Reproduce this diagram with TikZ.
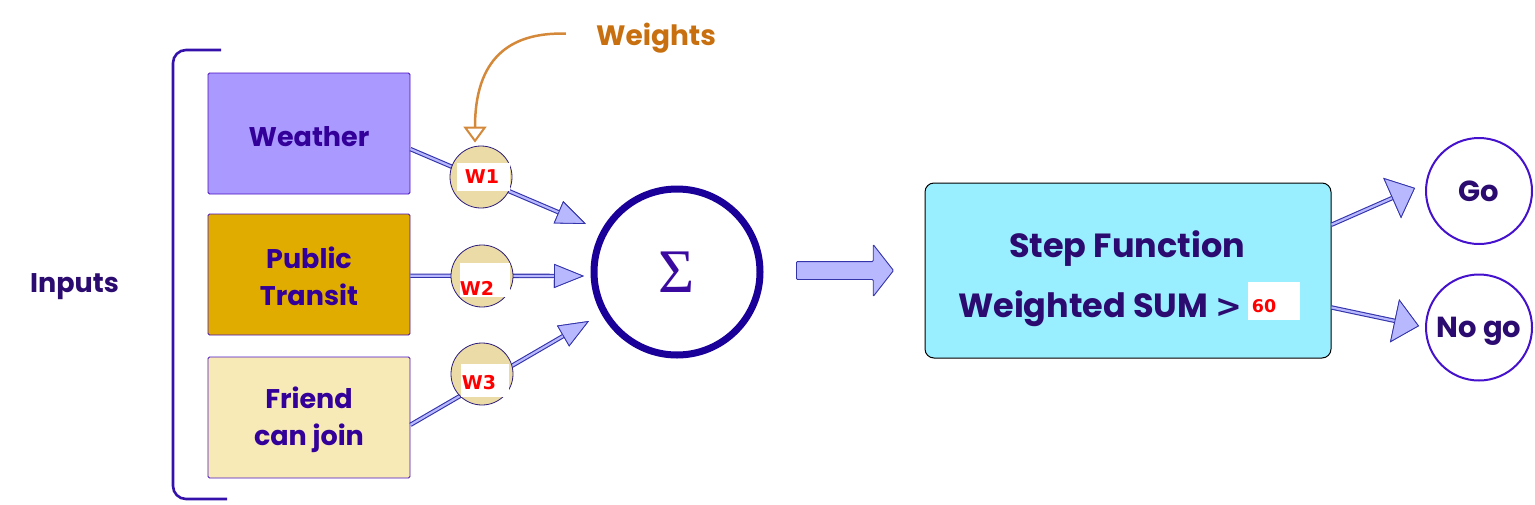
\documentclass[tikz,border=0pt]{standalone}
\usepackage{fontspec}
\usetikzlibrary{arrows.meta,shapes.arrows,calc}
\setmainfont{Poppins}
\newfontfamily\dvb{DejaVu Sans}
\newfontfamily\tms{Liberation Serif}
\definecolor{ink}{HTML}{2B0B6F}
\definecolor{boxink}{HTML}{330099}
\definecolor{brk}{HTML}{3311AA}
\definecolor{boxline}{HTML}{4A10C0}
\definecolor{wfill}{HTML}{AA99FF}
\definecolor{pfill}{HTML}{E0AC00}
\definecolor{ffill}{HTML}{F7EAB7}
\definecolor{cfill}{HTML}{EBDCA7}
\definecolor{cline}{HTML}{2A1A7A}
\definecolor{afill}{HTML}{B8B8FF}
\definecolor{aline}{HTML}{3333AA}
\definecolor{sumc}{HTML}{1A0099}
\definecolor{sigc}{HTML}{3A0AA0}
\definecolor{stepfill}{HTML}{99EEFF}
\definecolor{goline}{HTML}{4411CC}
\definecolor{wtxt}{HTML}{C8700F}
\definecolor{wcurve}{HTML}{D4883A}
\tikzset{
  inbox/.style={draw=boxline, line width=0.9pt, rounded corners=1.5pt, minimum width=202pt, minimum height=121pt, inner sep=0pt},
  boxtext/.style={text=boxink, font=\fontsize{27}{37}\selectfont\bfseries, inner sep=0pt, align=center},
  wcirc/.style={circle, draw=cline, line width=0.8pt, fill=cfill, minimum size=62pt, inner sep=0pt},
  wlab/.style={text=red, font=\dvb\fontsize{19}{19}\selectfont\bfseries, inner sep=0pt},
  feedtip/.style={-{Triangle[length=30pt,width=24pt,color=aline,fill=afill,line width=0.8pt]}},
  outtip/.style={-{Triangle[length=25pt,width=44pt,color=aline,fill=afill,line width=0.8pt]}},
  feed/.style={draw=afill, line width=2.2pt, feedtip, preaction={draw=aline, line width=4.4pt, feedtip}},
  outarrow/.style={draw=afill, line width=2.2pt, outtip, preaction={draw=aline, line width=4.4pt, outtip}},
  bigtext/.style={text=ink, font=\fontsize{33.5}{33.5}\selectfont\bfseries, inner sep=0pt},
  gocirc/.style={circle, draw=goline, line width=2pt, minimum size=106pt, inner sep=0pt, text=ink, text depth=0pt, font=\fontsize{29}{29}\selectfont\bfseries}
}
\begin{document}
\begin{tikzpicture}[x=1pt,y=-1pt]
\useasboundingbox (0,0) rectangle (1535,504);
% bracket and label
\draw[brk, line width=2.6pt, rounded corners=13pt] (221,50) -- (173,50) -- (173,499) -- (227,499);
\node[anchor=base, text=ink, font=\fontsize{27}{27}\selectfont\bfseries, inner sep=0pt] (inputs) at (74.5,292) {Inputs};
% input boxes
\node[inbox, fill=wfill] (weather) at (309,133.5) {};
\node[inbox, fill=pfill] (transit) at (309,274.5) {};
\node[inbox, fill=ffill] (friend) at (309,417.5) {};
\node[boxtext] (tw) at ($(weather)+(0,3)$) {Weather};
\node[boxtext] (tt) at ($(transit)+(0,2)$) {Public\\Transit};
\node[boxtext] (tf) at ($(friend)+(0,2)$) {Friend\\can join};
% arrow ends
\coordinate (e1) at (586,224);
\coordinate (e2) at (584,276);
\coordinate (e3) at (589,321);
\draw[feed] ($(weather.north east)!0.628!(weather.south east)$) -- (e1);
\draw[feed] ($(transit.north east)!0.51!(transit.south east)$) -- (e2);
\draw[feed] ($(friend.north east)!0.56!(friend.south east)$) -- (e3);
% weight circles
\node[wcirc] (w1) at (481,177) {};
\node[wcirc] (w2) at (482,276) {};
\node[wcirc] (w3) at (482,374) {};
\fill[white] (457,163) rectangle (510,191);
\fill[white] (460,263) rectangle (510,297);
\fill[white] (461,364) rectangle (509,397);
\node[wlab] (l1) at (482,177) {W1};
\node[wlab] (l2) at (477,288) {W2};
\node[wlab] (l3) at (479,383) {W3};
% weights label and curve
\node[anchor=base, text=wtxt, font=\fontsize{28}{28}\selectfont\bfseries, inner sep=0pt] (weights) at (656,45) {Weights};
\draw[wcurve, line width=2.5pt, -{Triangle[length=16pt,width=23pt,fill=white,line width=2pt]}] ($(weights.west)+(-30,-4)$) .. controls (508,32) and (475,60) .. ($(w1.north)+(-6,-3)$);
% sum
\node[circle, draw=sumc, line width=7pt, minimum size=166pt, inner sep=0pt, text=sigc, font=\tms\fontsize{62}{62}\selectfont] (sum) at (677,272) {Σ};
% big arrow
\node[single arrow, draw=aline, line width=0.9pt, fill=afill, inner xsep=0pt, inner ysep=8.5pt, single arrow head extend=17pt, single arrow tip angle=104, single arrow head indent=0pt, minimum height=97pt, rounded corners=1pt] (flow) at (841.5,270.5) {};
% step box
\node[draw=black, line width=1pt, rounded corners=9pt, fill=stepfill, minimum width=406pt, minimum height=175pt, inner sep=0pt] (step) at (1128,270.5) {};
\node[bigtext, anchor=base] (st1) at (1127,257) {Step Function};
\node[bigtext, anchor=base west] (st2) at (958,317) {Weighted SUM {\dvb\fontsize{32}{32}\selectfont\bfseries >}};
\fill[white] (1248,282) rectangle (1300,320);
\node[wlab, font=\dvb\fontsize{17.5}{17.5}\selectfont\bfseries] (sixty) at (1264,306) {60};
% outputs
\node[gocirc] (go) at (1479,191) {Go};
\node[gocirc] (nogo) at (1479,327.5) {No go};
\coordinate (g1) at (1415,188);
\coordinate (g2) at (1419,326);
\draw[outarrow] ($(step.north east)!0.24!(step.south east)$) -- (g1);
\draw[outarrow] ($(step.north east)!0.71!(step.south east)$) -- (g2);
\end{tikzpicture}
\end{document}
